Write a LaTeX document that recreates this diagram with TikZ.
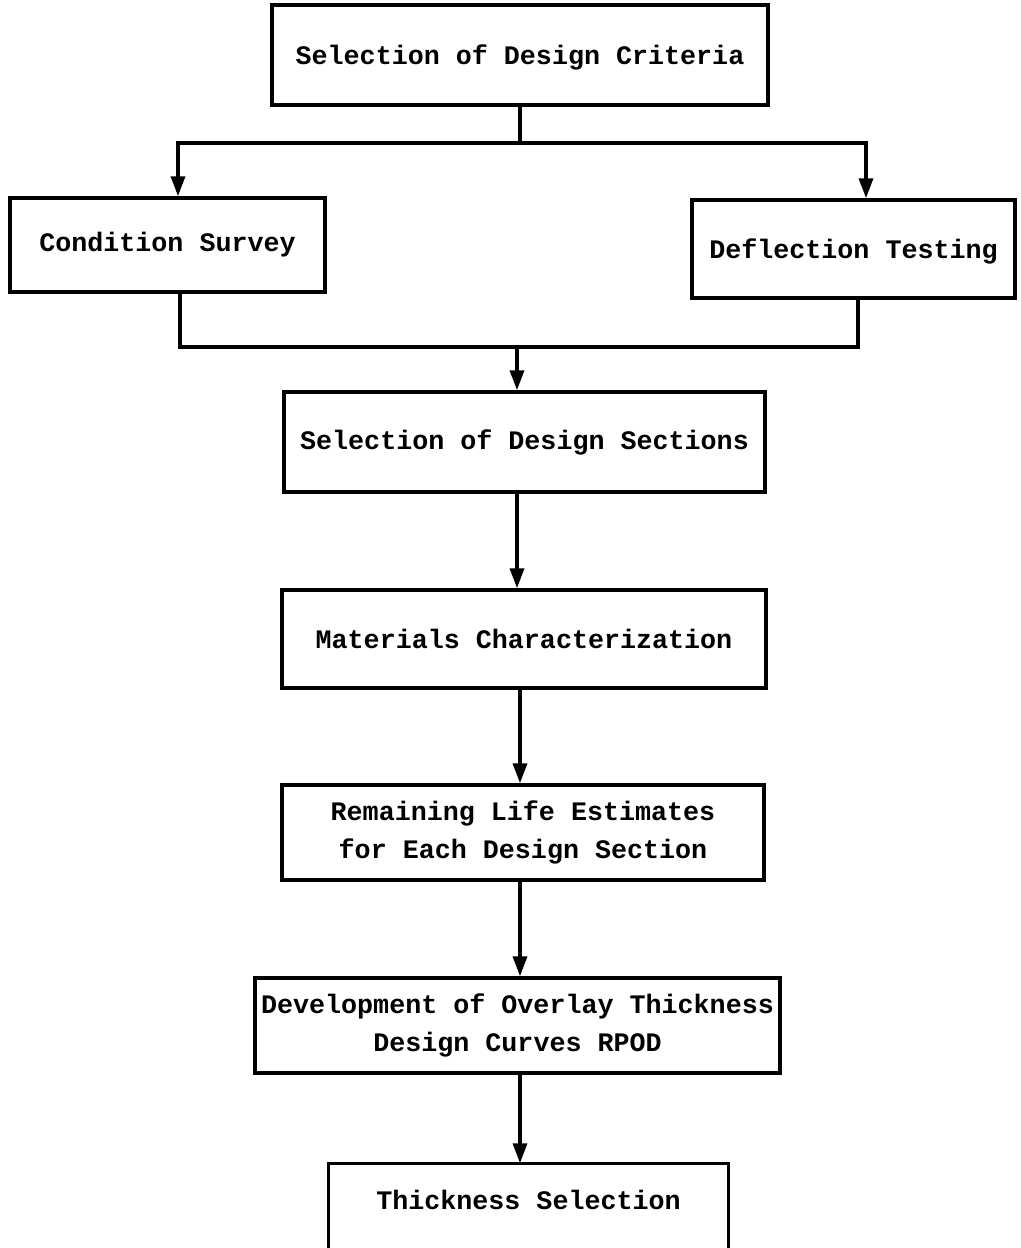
\documentclass[tikz,border=0pt]{standalone}
\usepackage{fontspec}
\setmonofont{Liberation Mono}
\usetikzlibrary{arrows.meta}

\tikzset{
  stage/.style={draw, line width=2pt, align=center, inner sep=0pt,
    font=\ttfamily\bfseries\fontsize{15.2}{21.5}\selectfont},
  flow/.style={line width=2pt, -{Triangle[length=0.4cm,width=0.28cm]}},
  link/.style={line width=2pt}
}

\begin{document}
\begin{tikzpicture}[x=0.02cm, y=-0.02cm]

    \useasboundingbox (0,0) rectangle (1021,1248);

    \node[stage, minimum width=9.92cm, minimum height=2.0cm, text depth=-0.25cm] (crit) at (520,55) {Selection of Design Criteria};
    \node[stage, minimum width=6.3cm, minimum height=1.88cm] (survey) at (167.5,245) {Condition Survey};
    \node[stage, minimum width=6.46cm, minimum height=1.96cm, text depth=-0.1cm] (defl) at (853.5,249) {Deflection Testing};
    \node[stage, minimum width=9.62cm, minimum height=2.0cm] (sections) at (524.5,442) {Selection of Design Sections};
    \node[stage, minimum width=9.68cm, minimum height=1.96cm] (mat) at (524,639) {Materials Characterization};
    \node[stage, minimum width=9.64cm, minimum height=1.9cm] (life) at (523,832.5) {Remaining Life Estimates\\for Each Design Section};
    \node[stage, minimum width=10.5cm, minimum height=1.9cm] (dev) at (517.5,1025.5) {Development of Overlay Thickness\\Design Curves RPOD};
    \node[stage, draw=none, minimum width=7.94cm, minimum height=1.4cm] (thick) at (528.5,1200) {Thickness Selection};

    \coordinate (split) at (520,143);
    \coordinate (merge) at (517,347);
    \coordinate (tapL) at (178,0);
    \coordinate (tapR) at (866,0);
    \coordinate (outL) at (180,0);
    \coordinate (outR) at (858,0);
    \coordinate (spine) at (520,0);
    \coordinate (floor) at (0,1250);

    \draw[link] (thick.south west |- floor) -- (thick.north west) -- (thick.north east) -- (thick.south east |- floor);

    \draw[link] (crit.south -| spine) -- (split);
    \draw[flow] (split) -| (survey.north -| tapL);
    \draw[flow] (split) -| (defl.north -| tapR);

    \draw[link] (survey.south -| outL) |- (merge) -| (defl.south -| outR);
    \draw[flow] (merge) -- (sections.north -| merge);

    \draw[flow] (sections.south -| merge) -- (mat.north -| merge);
    \foreach \a/\b in {mat/life, life/dev, dev/thick}
    \draw[flow] (\a.south -| spine) -- (\b.north -| spine);

\end{tikzpicture}
\end{document}
